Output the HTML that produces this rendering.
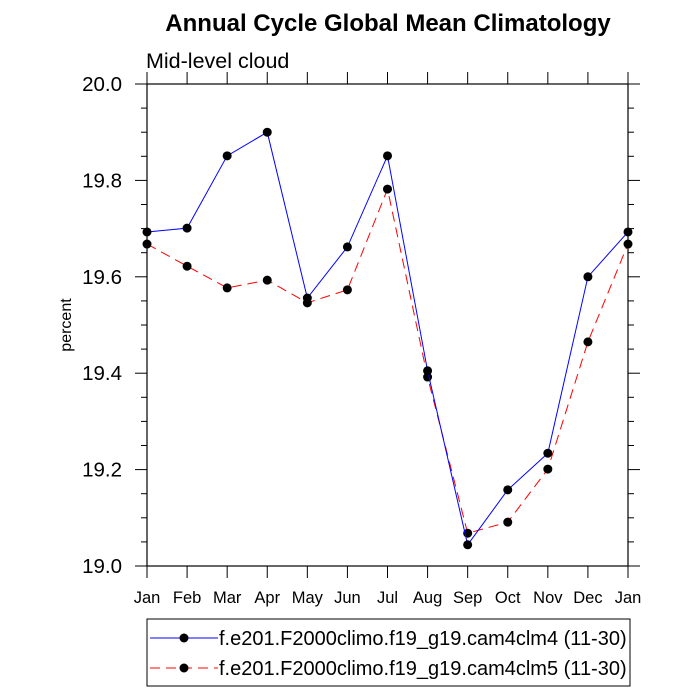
<!DOCTYPE html>
<html><head><meta charset="utf-8"><style>
body{margin:0;background:#fff}
svg{display:block;font-family:"Liberation Sans",sans-serif}
</style></head><body>
<svg id="c" width="700" height="700" viewBox="0 0 700 700">
<text x="388" y="31" text-anchor="middle" font-size="24" font-weight="bold">Annual Cycle Global Mean Climatology</text>
<text x="146" y="68" font-size="21.5">Mid-level cloud</text>
<text transform="translate(71,325) rotate(-90)" text-anchor="middle" font-size="16">percent</text>
<rect x="147" y="84" width="481" height="482" fill="none" stroke="#000" stroke-width="1.2"/>
<g id="axes"></g>
<g id="series"></g>
<g>
<rect x="147" y="619" width="483" height="67" fill="none" stroke="#000" stroke-width="1"/>
<g>
<line x1="150" y1="638" x2="218" y2="638" stroke="#00f" stroke-width="1"/>
<circle cx="184" cy="638" r="4.5" fill="#000"/>
<text x="219" y="645" font-size="20">f.e201.F2000climo.f19_g19.cam4clm4 (11-30)</text>
</g>
<g>
<line x1="150" y1="668" x2="218" y2="668" stroke="#f00" stroke-width="1" stroke-dasharray="10,6"/>
<circle cx="184" cy="668" r="4.5" fill="#000"/>
<text x="219" y="675" font-size="20">f.e201.F2000climo.f19_g19.cam4clm5 (11-30)</text>
</g>
</g>
</svg>
<script>
const months=["Jan","Feb","Mar","Apr","May","Jun","Jul","Aug","Sep","Oct","Nov","Dec","Jan"];
const clm4=[19.693,19.701,19.851,19.900,19.556,19.662,19.851,19.405,19.044,19.158,19.234,19.600,19.693];
const clm5=[19.668,19.622,19.577,19.593,19.546,19.573,19.782,19.392,19.068,19.091,19.201,19.465,19.668];
const yTicks=["19.0","19.2","19.4","19.6","19.8","20.0"];
const NS="http://www.w3.org/2000/svg";
const X0=147,X1=628,Y0=566,Y1=84,YMIN=19.0,YMAX=20.0;
const xs=i=>X0+(X1-X0)*i/(months.length-1);
const ys=v=>Y0-(v-YMIN)/(YMAX-YMIN)*(Y0-Y1);
function mk(tag,attrs,parent){const e=document.createElementNS(NS,tag);for(const k in attrs)e.setAttribute(k,attrs[k]);parent.appendChild(e);return e;}
const ax=document.getElementById('axes');
months.forEach((m,i)=>{
  const x=xs(i);
  const t1=mk('line',{x1:x,y1:Y0,x2:x,y2:Y0+12,stroke:'#000','stroke-width':1},ax);
  
  
  const t2=mk('line',{x1:x,y1:Y1,x2:x,y2:Y1-12,stroke:'#000','stroke-width':1},ax);
  
  
  const l=mk('text',{x:x,y:603,'text-anchor':'middle','font-size':16.5},ax);
  l.textContent=m;
  
  
});
for(let k=0;k<=20;k++){
  const v=YMIN+k*0.05,y=ys(v),major=k%4===0,len=major?12:6;
  const a=mk('line',{x1:X0-len,y1:y,x2:X0,y2:y,stroke:'#000','stroke-width':1},ax);
  
  
  const b=mk('line',{x1:X1,y1:y,x2:X1+len,y2:y,stroke:'#000','stroke-width':1},ax);
  
  
}
yTicks.forEach(s=>{
  const t=mk('text',{x:122,y:ys(parseFloat(s))+7,'text-anchor':'end','font-size':20.5},ax);
  t.textContent=s;
  
  
});
const sg=document.getElementById('series');
function draw(vals,color,dash,name){
  const g=mk('g',{},sg);
  
  
  const p=mk('polyline',{points:vals.map((v,i)=>xs(i)+','+ys(v)).join(' '),fill:'none',stroke:color,'stroke-width':1},g);
  if(dash)p.setAttribute('stroke-dasharray',dash);
  
  
  vals.forEach((v,i)=>{
    const c=mk('circle',{cx:xs(i),cy:ys(v),r:4.5,fill:'#000'},g);
    
    
  });
}
draw(clm5,'#f00','10,6','series-clm5');
draw(clm4,'#00f',null,'series-clm4');
</script>
</body></html>
